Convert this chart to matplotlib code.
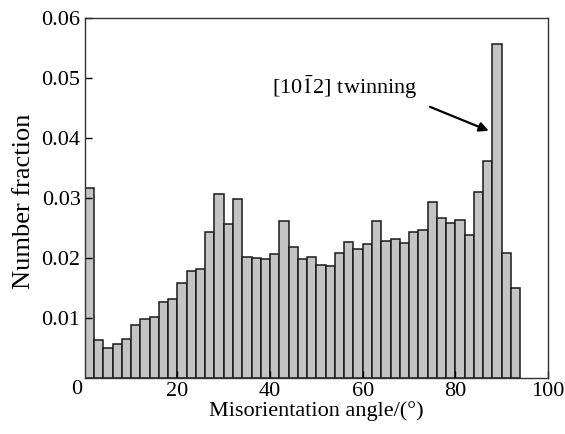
import matplotlib
matplotlib.use("Agg")
import matplotlib.pyplot as plt
import numpy as np

plt.rcParams['font.family'] = ['Liberation Serif', 'DejaVu Serif']
plt.rcParams['mathtext.fontset'] = 'stix'

# histogram bins: 2 degree steps from 0 to 94
bin_edges = list(range(0, 96, 2))
fractions = [0.0317, 0.0064, 0.0050, 0.0056, 0.0065, 0.0089, 0.0098, 0.0102,
             0.0126, 0.0131, 0.0158, 0.0179, 0.0181, 0.0243, 0.0306, 0.0257,
             0.0298, 0.0201, 0.0200, 0.0198, 0.0206, 0.0261, 0.0219, 0.0198,
             0.0201, 0.0189, 0.0186, 0.0209, 0.0226, 0.0215, 0.0224, 0.0261,
             0.0229, 0.0232, 0.0225, 0.0243, 0.0247, 0.0293, 0.0267, 0.0259,
             0.0263, 0.0239, 0.0310, 0.0361, 0.0557, 0.0209, 0.0150]
yticks = [0.01, 0.02, 0.03, 0.04, 0.05, 0.06]
xticks = [20, 40, 60, 80, 100]

fs = 16

fig = plt.figure(figsize=(5.65, 4.34), dpi=100)
ax = fig.add_axes([0.150, 0.129, 0.820, 0.8295])

left = np.array(bin_edges[:-1])
width = np.diff(bin_edges)
ax.bar(left, fractions, width=width, align='edge', color='#c4c4c4',
       edgecolor='#1a1a1a', linewidth=1.1)

ax.set_xlim(0, 100)
ax.set_ylim(0, 0.06)
ax.set_xticks(xticks)
ax.set_xticklabels([str(t) for t in xticks])
ax.set_yticks(yticks)
ax.set_yticklabels(["%.2f" % t for t in yticks])
ax.tick_params(direction='in', length=5, width=1, labelsize=fs, pad=3,
               top=False, right=False)
for sp in ax.spines.values():
    sp.set_linewidth(1.0)
    sp.set_color('#333333')

# shared origin label
ax.text(-1.7, -0.0004, "0", fontsize=fs, ha='center', va='top')

ax.set_xlabel("Misorientation angle/(°)", fontsize=fs, labelpad=0)
ax.set_ylabel("Number fraction", fontsize=19)
ax.yaxis.set_label_coords(-0.108, 0.49)

# arrow only, text placed separately
ax.annotate("", xy=(87.2, 0.0412), xytext=(74.5, 0.0452),
            arrowprops=dict(arrowstyle='-|>', color='black', lw=1.6,
                            mutation_scale=14, shrinkA=0, shrinkB=0))
ax.text(40.4, 0.0485, r"[10$\mathrm{\bar{1}}$2] twinning", fontsize=fs,
        ha='left', va='center')

fig.savefig("out.png", dpi=100)
